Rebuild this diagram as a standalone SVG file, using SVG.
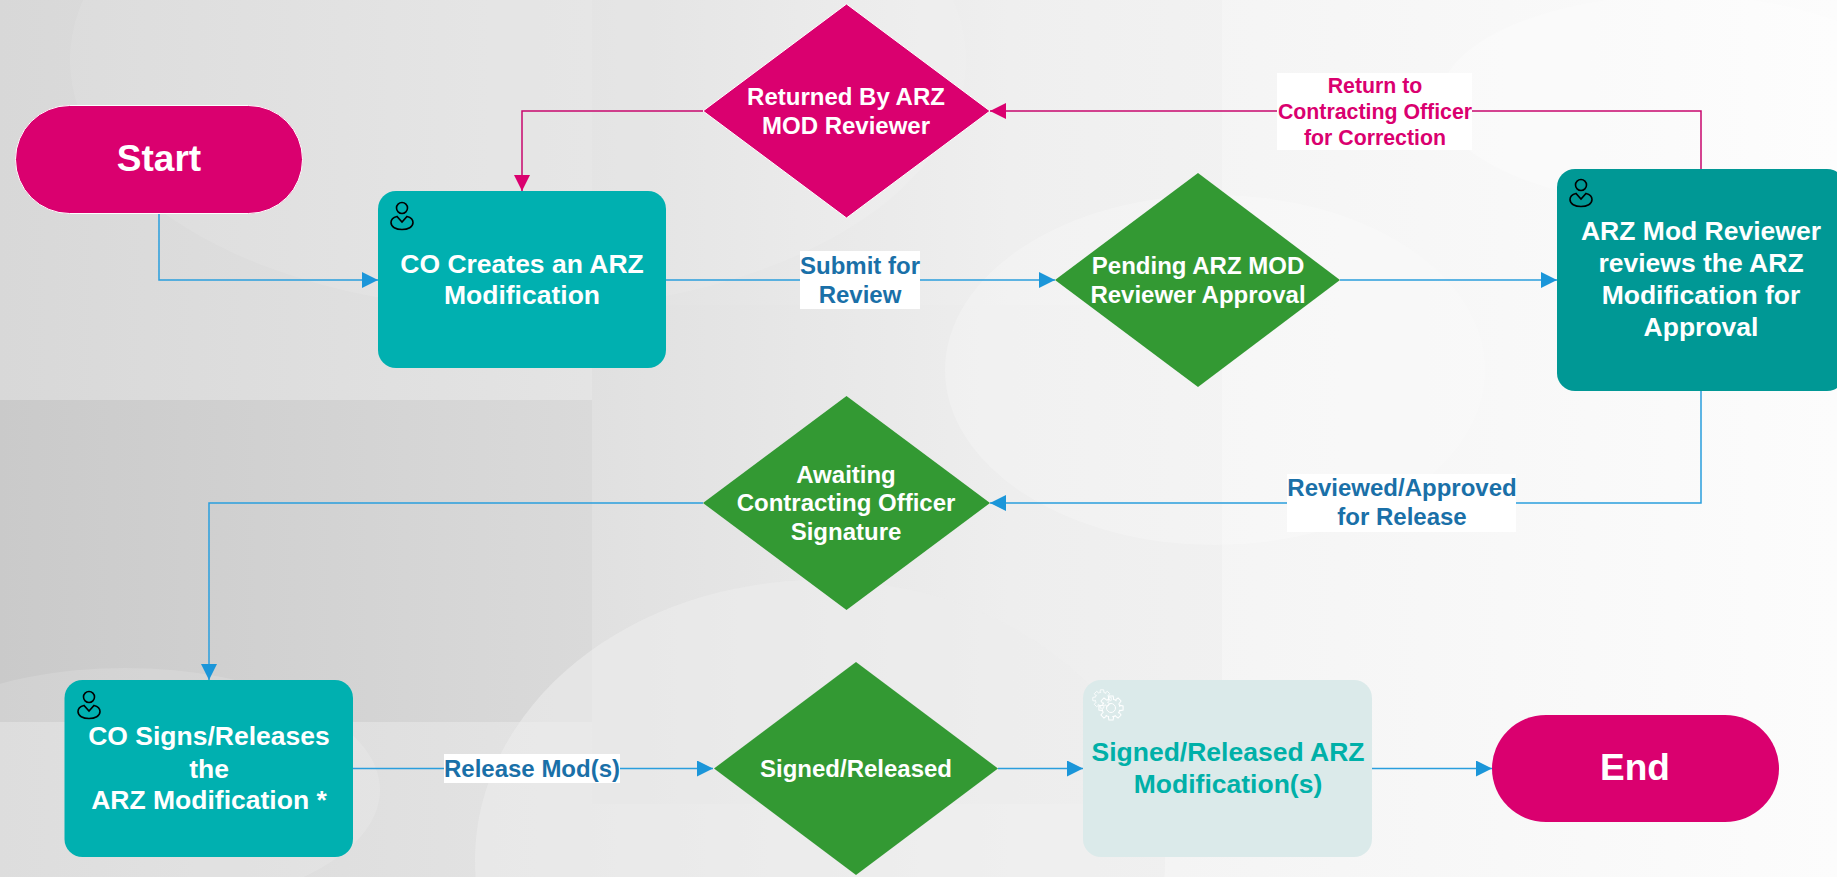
<svg xmlns="http://www.w3.org/2000/svg" width="1837" height="877" viewBox="0 0 1837 877">
<style>
text{font-family:"Liberation Sans",Arial,sans-serif;font-weight:700;text-anchor:middle}
.n{font-size:26.500px;fill:#fff}
.d{font-size:24px;fill:#fff}
.t{font-size:37px;fill:#fff}
.lb{font-size:24px;fill:#1a70a8}
.lp{font-size:21.300px;fill:#da006f}
.pink{fill:#da006f}
.green{fill:#339933}
.teal{fill:#00b0b0}
.c{fill:none;stroke-width:1.5}
.cb{stroke:#2a9edd}
.cp{stroke:#c8076e}
.lbg{fill:#fff}
.ico{fill:none;stroke:#000;stroke-width:1.6}
.gear{fill:none;stroke:#fff;stroke-width:1}
</style>
<defs>
<linearGradient id="bg" x1="0" y1="0" x2="1" y2="0"><stop offset="0" stop-color="#d8d8d8"/><stop offset=".32" stop-color="#e4e4e4"/><stop offset=".55" stop-color="#f2f2f2"/><stop offset="1" stop-color="#fcfcfc"/></linearGradient>
<linearGradient id="band" x1="0" y1="0" x2="1" y2="0"><stop offset="0" stop-color="#cacaca"/><stop offset="1" stop-color="#dadada"/></linearGradient>
<marker id="ab" markerUnits="userSpaceOnUse" markerWidth="16" markerHeight="16" refX="16" refY="8" orient="auto"><path d="M0 0L16 8L0 16Z" fill="#1b96d9"/></marker>
<marker id="ap" markerUnits="userSpaceOnUse" markerWidth="16" markerHeight="16" refX="16" refY="8" orient="auto"><path d="M0 0L16 8L0 16Z" fill="#da006f"/></marker>
<g id="user"><circle cx="0" cy="0" r="5.500" class="ico"/><path class="ico" d="M-5 8.500C-9 9.500-11 11.500-11 14.500C-11 19 -6 21.500 0 21.500C6 21.500 11 19 11 14.500C11 11.500 9 9.500 5 8.500L0 14Z"/></g>
<path id="tooth" d="M-2.500 -8.500L-2 -11.500L2 -11.500L2.500 -8.500" class="gear"/>
<g id="gear"><use href="#tooth"/><use href="#tooth" transform="rotate(45)"/><use href="#tooth" transform="rotate(90)"/><use href="#tooth" transform="rotate(135)"/><use href="#tooth" transform="rotate(180)"/><use href="#tooth" transform="rotate(225)"/><use href="#tooth" transform="rotate(270)"/><use href="#tooth" transform="rotate(315)"/><circle r="8.500" class="gear" stroke-dasharray="3.600 3.070" stroke-dashoffset="-1.800"/></g>
</defs>
<g id="background">
<rect width="1837" height="877" fill="url(#bg)"/>
<rect x="0" y="400" width="592" height="322" fill="url(#band)"/>
<rect x="592" y="0" width="630" height="305" fill="#000" opacity=".012"/>
<rect x="592" y="305" width="630" height="499" fill="#000" opacity=".015"/>
<ellipse cx="518" cy="60" rx="448" ry="250" fill="#fff" opacity=".1"/>
<ellipse cx="1215" cy="370" rx="270" ry="175" fill="#fff" opacity=".22"/>
<ellipse cx="125" cy="790" rx="255" ry="122" fill="#fff" opacity=".14"/>
<ellipse cx="820" cy="860" rx="345" ry="280" fill="#ededed" opacity=".6"/>
<ellipse cx="1680" cy="100" rx="240" ry="105" fill="#fff" opacity=".25"/>
</g>
<g id="connectors">
<path class="c cb" d="M159 213V280H378" marker-end="url(#ab)"/>
<path class="c cb" d="M666 280H1055" marker-end="url(#ab)"/>
<path class="c cb" d="M1340 280H1557" marker-end="url(#ab)"/>
<path class="c cp" d="M1701 169V111H990" marker-end="url(#ap)"/>
<path class="c cp" d="M703 111H522V191" marker-end="url(#ap)"/>
<path class="c cb" d="M1701 391V503H990" marker-end="url(#ab)"/>
<path class="c cb" d="M703 503H209V680" marker-end="url(#ab)"/>
<path class="c cb" d="M353 768.500H713" marker-end="url(#ab)"/>
<path class="c cb" d="M998 768.500H1083" marker-end="url(#ab)"/>
<path class="c cb" d="M1372 768.500H1492" marker-end="url(#ab)"/>
<g id="label-submit"><rect class="lbg" x="800" y="251" width="120" height="58"/><text class="lb" x="860" y="274">Submit for</text><text class="lb" x="860" y="303">Review</text></g>
<g id="label-return"><rect class="lbg" x="1277" y="73" width="195" height="77"/><text class="lp" x="1375" y="92.500">Return to</text><text class="lp" x="1375" y="118.500">Contracting Officer</text><text class="lp" x="1375" y="144.500">for Correction</text></g>
<g id="label-reviewed"><rect class="lbg" x="1287" y="474" width="229" height="58"/><text class="lb" x="1402" y="496">Reviewed/Approved</text><text class="lb" x="1402" y="525">for Release</text></g>
<g id="label-release"><rect class="lbg" x="444" y="754" width="176" height="29"/><text class="lb" x="532" y="777">Release Mod(s)</text></g>
</g>
<g id="start"><rect class="pink" x="15.500" y="105.500" width="287" height="108" rx="54" ry="54" stroke="#fff" stroke-width="1"/><text class="t" x="159" y="171">Start</text></g>
<g id="co-creates"><rect class="teal" x="378" y="191" width="288" height="177" rx="18"/><use href="#user" x="402" y="208"/><text class="n" x="522" y="273">CO Creates an ARZ</text><text class="n" x="522" y="304">Modification</text></g>
<g id="returned"><polygon class="pink" points="846.500,4 990,111 846.500,218 703,111" stroke="#fff" stroke-width="1"/><text class="d" x="846" y="104.500">Returned By ARZ</text><text class="d" x="846" y="133.500">MOD Reviewer</text></g>
<g id="pending"><polygon class="green" points="1198,173 1340,280 1198,387 1055,280"/><text class="d" x="1198" y="274">Pending ARZ MOD</text><text class="d" x="1198" y="303">Reviewer Approval</text></g>
<g id="reviewer"><rect x="1557" y="169" width="288" height="222" rx="18" fill="#009895"/><use href="#user" x="1581" y="185"/><text class="n" x="1701" y="240">ARZ Mod Reviewer</text><text class="n" x="1701" y="272">reviews the ARZ</text><text class="n" x="1701" y="304">Modification for</text><text class="n" x="1701" y="336">Approval</text></g>
<g id="awaiting"><polygon class="green" points="846.500,396 990,503 846.500,610 703,503"/><text class="d" x="846" y="483">Awaiting</text><text class="d" x="846" y="511">Contracting Officer</text><text class="d" x="846" y="540">Signature</text></g>
<g id="co-signs"><rect class="teal" x="64.500" y="680" width="288.500" height="177" rx="18"/><use href="#user" x="89" y="697"/><text class="n" x="209" y="745">CO Signs/Releases</text><text class="n" x="209" y="778">the</text><text class="n" x="209" y="809">ARZ Modification *</text></g>
<g id="signed"><polygon class="green" points="856,662 998,768.500 856,875 714,768.500"/><text class="d" x="856" y="777">Signed/Released</text></g>
<g id="signed-box"><rect x="1083" y="680" width="289" height="177" rx="18" fill="#dbeaea"/><use href="#gear" transform="translate(1102 699) scale(.8)"/><use href="#gear" transform="translate(1111 708) scale(1.05)"/><circle cx="1111" cy="708" r="4.500" class="gear"/><text class="n" x="1228" y="761" style="fill:#00b0a8">Signed/Released ARZ</text><text class="n" x="1228" y="793" style="fill:#00b0a8">Modification(s)</text></g>
<g id="end"><rect class="pink" x="1492" y="715" width="287" height="107" rx="54" ry="54"/><text class="t" x="1635" y="780">End</text></g>
</svg>
